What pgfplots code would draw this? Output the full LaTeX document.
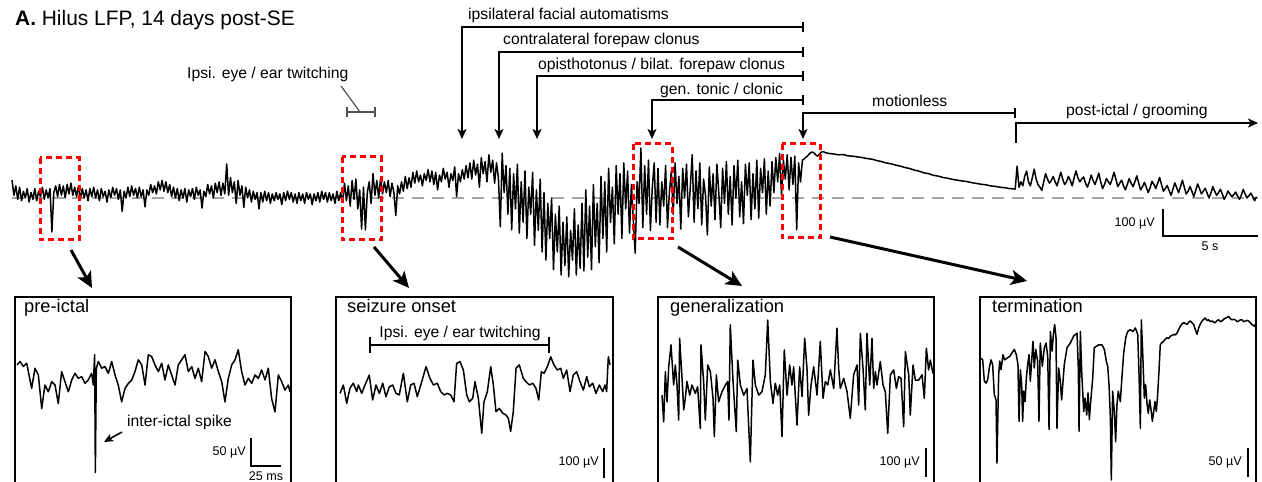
\documentclass[border=0pt]{standalone}
\usepackage{fontspec}
\setmainfont{Liberation Sans}
\usepackage{pgfplots}
\pgfplotsset{compat=1.18}
\usetikzlibrary{arrows.meta}
\newcommand{\fs}[1]{\fontsize{#1}{#1}\selectfont}
\definecolor{basegray}{RGB}{165,165,165}
\definecolor{bargray}{RGB}{80,80,80}

\begin{document}
\begin{tikzpicture}[x=1pt,y=1pt]
\useasboundingbox (0,0) rectangle (1262,482);

% ---------------- full recording: hilus LFP (time in s, voltage in uV) ----------------
\begin{axis}[at={(12pt,284pt)}, anchor=origin, x=19pt, y=0.27pt,
  xmin=0, xmax=65.6, ymin=-300, ymax=200, hide axis, clip=false]
\addplot[basegray, line width=2pt, dash pattern=on 12pt off 8pt] coordinates {(0,0) (65.6,0)};
\addplot[black, line width=1.5pt, line join=round] coordinates {
(0,66)(0.1,10)(0.2,45)(0.3,-5)(0.4,40)(0.5,-10)(0.6,25)(0.7,0)(0.8,35)(0.9,-15)(1,20)(1.1,-5)(1.2,35)(1.3,-10)(1.4,25)(1.5,5)(1.6,40)(1.7,-5)(1.8,30)(1.9,0)(2,35)(2.1,-126)(2.2,20)(2.3,45)(2.4,5)(2.5,50)(2.6,10)(2.7,45)(2.8,0)(2.9,50)(3,15)(3.1,55)(3.2,10)(3.3,40)(3.4,5)(3.5,45)(3.6,-5)(3.7,35)(3.8,0)(3.9,30)(4,-10)(4.1,35)(4.2,5)(4.3,40)(4.4,0)(4.5,30)(4.6,-10)(4.7,35)(4.8,5)(4.9,25)(5,-15)(5.1,30)(5.2,0)(5.3,40)(5.4,10)(5.5,35)(5.6,-5)(5.7,30)(5.8,-50)(5.9,25)(6,0)(6.1,40)(6.2,5)(6.3,45)(6.4,10)(6.5,35)(6.6,0)(6.7,40)(6.8,5)(6.9,30)(7,-33)(7.1,30)(7.2,10)(7.3,50)(7.4,20)(7.5,45)(7.6,15)(7.7,60)(7.8,30)(7.9,65)(8,25)(8.1,60)(8.2,20)(8.3,50)(8.4,5)(8.5,40)(8.6,0)(8.7,35)(8.8,-10)(8.9,30)(9,0)(9.1,35)(9.2,-15)(9.3,30)(9.4,5)(9.5,35)(9.6,-5)(9.7,40)(9.8,10)(9.9,30)(10,-37)(10.1,25)(10.2,5)(10.3,50)(10.4,15)(10.5,45)(10.6,0)(10.7,55)(10.8,20)(10.9,60)(11,10)(11.1,55)(11.2,15)(11.3,126)(11.4,10)(11.5,75)(11.6,20)(11.7,60)(11.8,-20)(11.9,65)(12,10)(12.1,45)(12.2,-35)(12.3,40)(12.4,0)(12.5,30)(12.6,-15)(12.7,25)(12.8,-5)(12.9,20)(13,-40)(13.1,20)(13.2,-15)(13.3,25)(13.4,-10)(13.5,20)(13.6,-20)(13.7,15)(13.8,-10)(13.9,20)(14,-5)(14.1,15)(14.2,-25)(14.3,20)(14.4,-10)(14.5,25)(14.6,-5)(14.7,20)(14.8,-15)(14.9,15)(15,-20)(15.1,20)(15.2,-10)(15.3,15)(15.4,-20)(15.5,20)(15.6,-5)(15.7,15)(15.8,-25)(15.9,15)(16,-10)(16.1,20)(16.2,-15)(16.3,25)(16.4,-5)(16.5,20)(16.6,-15)(16.7,20)(16.8,-10)(16.9,15)(17,-20)(17.1,25)(17.2,-10)(17.3,20)(17.4,-15)(17.5,55)(17.6,-10)(17.7,45)(17.8,-30)(17.9,65)(18,-5)(18.1,70)(18.2,-40)(18.3,30)(18.4,-115)(18.5,40)(18.6,-118)(18.7,20)(18.8,60)(18.9,-20)(19,90)(19.1,10)(19.2,65)(19.3,0)(19.4,75)(19.5,15)(19.6,60)(19.7,20)(19.8,65)(19.9,5)(20,55)(20.1,20)(20.2,-65)(20.3,45)(20.4,15)(20.5,60)(20.6,25)(20.7,80)(20.8,35)(20.9,75)(21,40)
(21.1,95)(21.2,55)(21.3,100)(21.4,60)(21.5,85)(21.6,45)(21.7,90)(21.8,65)(21.9,105)(22,60)
(22.1,100)(22.2,50)(22.3,95)(22.4,30)(22.5,85)(22.6,60)(22.7,110)(22.8,70)(22.9,95)(23,40)(23.1,90)(23.2,65)(23.3,115)(23.4,5)(23.5,90)(23.6,60)(23.7,105)(23.8,70)(23.9,120)(24,75)
(24.1,130)(24.2,70)(24.3,140)(24.4,85)(24.5,125)(24.6,40)(24.7,150)(24.8,90)(24.9,135)(25,60)(25.1,160)(25.2,95)(25.3,140)(25.4,55)(25.5,130)(25.6,75)(25.7,-107)(25.8,166)(25.9,20)
(26,120)(26.1,-60)(26.2,110)(26.3,-118)(26.4,90)(26.5,-40)(26.6,125)(26.7,-130)(26.8,60)(26.9,-90)(27,100)(27.1,-150)(27.2,40)(27.3,-60)(27.4,95)(27.5,-175)(27.6,30)(27.7,-120)(27.8,70)(27.9,-200)(28,20)
(28.1,-230)(28.2,-20)(28.3,-150)(28.4,0)(28.5,-265)(28.6,-60)(28.7,-200)(28.8,-30)(28.9,-285)(29,-90)
(29.1,-250)(29.2,-70)(29.3,-292)(29.4,-120)(29.5,-230)(29.6,-40)(29.7,-285)(29.8,-100)(29.9,-260)(30,-20)
(30.1,-270)(30.2,30)(30.3,-220)(30.4,-30)(30.5,-265)(30.6,50)(30.7,-180)(30.8,-20)(30.9,-240)(31,80)
(31.1,-150)(31.2,60)(31.3,-200)(31.4,110)(31.5,-90)(31.6,40)(31.7,-170)(31.8,120)(31.9,-60)(32,90)
(32.1,-150)(32.2,130)(32.3,-40)(32.4,100)(32.5,-130)(32.6,50)(32.7,-80)(32.8,-204)(32.9,60)(33,-20)(33.1,185)(33.2,-110)(33.3,120)(33.4,-60)(33.5,140)(33.6,-120)(33.7,40)(33.8,130)(33.9,-90)(34,110)
(34.1,-100)(34.2,60)(34.3,-30)(34.4,120)(34.5,-110)(34.6,20)(34.7,100)(34.8,-60)(34.9,130)(35,-20)(35.1,80)(35.2,-115)(35.3,110)(35.4,0)(35.5,125)(35.6,-70)(35.7,40)(35.8,160)(35.9,-90)(36,100)(36.1,-40)(36.2,130)(36.3,-100)(36.4,70)(36.5,10)(36.6,-137)(36.7,115)(36.8,-30)(36.9,90)(37,-80)(37.1,125)(37.2,20)(37.3,-110)(37.4,110)(37.5,-20)(37.6,135)(37.7,-60)(37.8,80)(37.9,-100)(38,120)(38.1,0)(38.2,140)(38.3,-70)(38.4,60)(38.5,-95)(38.6,125)(38.7,10)(38.8,130)(38.9,-80)(39,90)(39.1,-40)(39.2,140)(39.3,-75)(39.4,110)(39.5,20)(39.6,145)(39.7,-60)(39.8,100)(39.9,-30)(40,135)
(40.1,20)(40.2,150)(40.3,60)(40.4,165)(40.5,10)(40.6,140)(40.7,70)(40.8,160)(40.9,30)(41,150)(41.1,50)(41.2,155)(41.3,-118)(41.4,130)(41.5,60)(41.6,140)
(41.7,145)(41.8,152)(41.9,158)(42,166)(42.1,170)(42.2,168)(42.3,160)(42.4,155)(42.5,163)(42.6,170)(42.7,172)(42.8,168)(43,165)(43.25,163)(43.5,160)(43.75,161)(44,156)(44.25,155)(44.5,152)(44.75,150)(45,146)(45.25,144)(45.5,139)(45.75,135)(46,130)(46.25,127)(46.5,122)(46.75,118)(47,113)(47.25,109)(47.5,103)(47.75,99)(48,93)(48.25,90)(48.5,84)(48.75,81)(49,76)(49.25,73)(49.5,69)(49.75,66)(50,63)(50.25,61)(50.5,57)(50.75,54)(51,51)(51.25,49)(51.5,45)(51.75,43)(52,40)(52.25,38)(52.5,35)(52.8,33)
(52.9,118)(53,40)(53.1,60)(53.2,45)(53.3,80)(53.4,100)(53.5,60)(53.6,45)(53.7,75)(53.8,107)(53.9,70)(54,50)(54.1,40)(54.2,28)(54.3,60)(54.4,90)(54.5,70)(54.6,55)(54.7,65)(54.8,80)(54.9,60)(55,45)(55.1,70)(55.2,95)(55.3,70)(55.4,50)(55.5,60)(55.6,80)(55.7,65)(55.8,45)(55.9,75)(56,100)(56.1,75)(56.2,60)(56.3,70)(56.4,78)(56.5,55)(56.6,40)(56.7,60)(56.8,85)(56.9,65)(57,50)(57.1,70)(57.2,92)(57.3,60)(57.4,35)(57.5,50)(57.6,72)(57.7,60)(57.8,50)(57.9,70)(58,95)(58.1,70)(58.2,42)(58.3,55)(58.4,66)(58.5,45)(58.6,30)(58.7,50)(58.8,72)(58.9,55)(59,42)(59.1,60)(59.2,82)(59.3,55)(59.4,30)(59.5,42)(59.6,58)(59.7,40)(59.8,20)(59.9,38)(60,62)(60.1,50)(60.2,35)(60.3,55)(60.4,76)(60.5,50)(60.6,25)(60.7,35)(60.8,46)(60.9,28)(61,10)(61.1,32)(61.2,56)(61.3,38)(61.4,20)(61.5,42)(61.6,66)(61.7,40)(61.8,15)(61.9,25)(62,42)(62.1,25)(62.2,5)(62.3,28)(62.4,52)(62.5,35)(62.6,15)(62.7,25)(62.8,36)(62.9,18)(63,0)(63.1,18)(63.2,42)(63.3,25)(63.4,10)(63.5,20)(63.6,32)(63.7,15)(63.8,-5)(63.9,8)(64,26)(64.1,15)(64.2,5)(64.3,12)(64.4,22)(64.5,8)(64.6,-5)(64.7,10)(64.8,32)(64.9,15)(65,0)(65.1,8)(65.2,18)(65.3,5)(65.4,-10)(65.5,5)
};
\end{axis}

% ---------------- inset: pre-ictal (time in ms, voltage in uV) ----------------
\begin{axis}[at={(17pt,102pt)}, anchor=origin, x=1.2pt, y=0.56pt,
  xmin=0, xmax=228, ymin=-170, ymax=60, hide axis, clip=false]
\addplot[black, line width=1.5pt, line join=round] coordinates {
(0,27)(2.5,33)(5.3,24)(8.1,30)(12.2,-15)(15,21)(17.8,9)(20.6,-51)(23.3,-9)(26.1,-21)(28.9,-3)(31.7,-9)(34.4,-42)(37.2,15)(40,-3)(42.8,-21)(45.6,0)(48.3,12)(51.1,3)(53.9,6)(56.7,-6)(59.4,0)(62.2,12)(63.6,-9)(64.7,45)(65.3,-165)(66.1,21)(67.8,33)(70.6,21)(73.3,24)(76.1,12)(78.9,33)(81.7,9)(84.4,-9)(87.2,-39)(90,-15)(92.8,-6)(95.6,0)(98.3,15)(101.1,36)(103.9,27)(106.7,-9)(109.4,45)(112.2,42)(115,27)(117.8,15)(120.6,30)(123.3,0)(126.1,27)(128.9,9)(131.7,-9)(134.4,27)(137.2,36)(140,45)(142.8,15)(145.6,24)(148.3,3)(151.1,21)(153.9,-3)(156.7,51)(159.4,42)(162.2,21)(165,36)(167.8,15)(170.6,-3)(173.3,-39)(176.1,3)(178.9,27)(181.7,36)(184.4,54)(187.2,15)(190,-9)(192.8,3)(195.6,-6)(198.3,9)(201.1,3)(203.9,18)(206.7,0)(209.4,21)(212.2,-33)(215,-57)(217.8,9)(220.6,-3)(223.3,-18)(226.1,-9)(227.5,-21)
};
\end{axis}

% ---------------- inset: seizure onset ----------------
\begin{axis}[at={(340pt,97pt)}, anchor=origin, x=1.2pt, y=0.3pt,
  xmin=0, xmax=226, ymin=-170, ymax=100, hide axis, clip=false]
\addplot[black, line width=1.5pt, line join=round] coordinates {
(0,-28)(2.8,0)(5.6,-61)(8.3,-11)(11.1,6)(13.9,-22)(15.3,0)(18.1,-28)(20.8,0)(24.4,33)(27.2,-50)(30,0)(32.8,-28)(35.6,6)(38.3,-39)(41.1,-6)(43.9,0)(46.7,-28)(49.4,-33)(52.8,39)(56.1,-56)(58.9,0)(61.7,6)(64.4,-39)(68.1,11)(71.7,61)(75,22)(77.8,0)(81.1,6)(83.9,-22)(86.7,-33)(89.4,-28)(92.2,-33)(95,-56)(97.2,72)(100,78)(102.8,50)(105.6,-33)(107.8,-56)(110.6,-44)(112.5,11)(115.3,-44)(118.1,-161)(120,-56)(122.8,-22)(125.6,61)(127.8,0)(130,-89)(132.8,-78)(135.6,-94)(138.3,-100)(140.3,-111)(142.2,-155)(144.4,-89)(146.7,56)(149.4,67)(152.8,22)(155,11)(157.8,0)(160.6,6)(163.3,-11)(165.6,-50)(167.8,44)(170,39)(172.8,61)(175.6,94)(178.3,67)(181.1,50)(183.9,56)(186.1,22)(188.9,50)(191.7,-22)(194.4,33)(197.2,44)(200,11)(202.8,-17)(205.6,28)(207.8,-6)(210.6,6)(213.3,-28)(216.1,0)(218.9,-22)(220.8,0)(222.2,-22)(223.6,94)(225,67)
};
\end{axis}

% ---------------- inset: generalization ----------------
\begin{axis}[at={(662pt,97pt)}, anchor=origin, x=1.2pt, y=0.29pt,
  xmin=0, xmax=226, ymin=-270, ymax=230, hide axis, clip=false]
\addplot[black, line width=1.5pt, line join=round] coordinates {
(0,-35)(1.4,-127)(2.8,46)(4.2,-58)(5.6,63)(7.5,138)(9.7,0)(11.1,69)(12.5,0)(13.9,-121)(14.7,161)(16.7,23)(18.1,-86)(19.4,-46)(20.8,12)(23.1,-35)(25,0)(27.8,-29)(29.7,-6)(31.9,-150)(32.5,138)(34.7,12)(36.1,-121)(38.1,69)(40.3,46)(42.5,-46)(43.6,-178)(45.3,35)(47.2,-58)(50,-23)(52.8,0)(54.7,12)(55.8,-121)(56.9,207)(59.2,12)(61.9,-161)(63.1,86)(65.3,0)(68.1,-35)(70.8,-12)(73.6,-265)(75.8,86)(77.8,0)(80.6,-35)(83.3,-23)(86.1,35)(88.1,224)(90.3,12)(92.5,-63)(94.4,6)(96.4,-35)(98.1,0)(100,-178)(101.9,121)(104.2,-35)(106.4,69)(108.3,0)(109.7,63)(112.5,-138)(114.7,63)(116.7,-40)(118.9,161)(120.8,58)(122.2,-104)(124.2,0)(126.4,63)(129.2,-35)(131.9,150)(134.2,-46)(136.1,12)(138.1,0)(140.3,52)(143.1,-12)(145.8,196)(147.2,58)(148.6,-12)(151.4,23)(154.2,-23)(156.9,-115)(159.7,35)(162.5,69)(163.9,-69)(165.3,178)(167.5,58)(169.4,-86)(170.8,178)(173.1,0)(175,161)(176.4,-12)(177.8,46)(179.2,0)(181.9,81)(184.2,0)(186.1,-23)(188.1,-167)(190.3,35)(193.1,52)(195.3,-12)(197.2,29)(199.2,23)(201.4,-144)(202.8,115)(205.6,35)(206.9,-104)(209.2,69)(211.1,17)(213.9,17)(216.7,35)(218.6,-46)(220.3,127)(222.2,52)(223.6,86)(225.8,40)
};
\end{axis}

% ---------------- inset: termination ----------------
\begin{axis}[at={(981pt,114pt)}, anchor=origin, x=1.2pt, y=0.58pt,
  xmin=0, xmax=229, ymin=-200, ymax=95, hide axis, clip=false]
\addplot[black, line width=1.5pt, line join=round] coordinates {
(0,17)(1.4,14)(2.8,-23)(4.2,-26)(5.6,-20)(6.9,0)(8.3,14)(9.7,6)(11.1,-46)(12.5,-55)(13.3,-164)(14.7,-12)(15.6,12)(16.7,-3)(18.3,23)(19.7,14)(21.7,17)(23.9,20)(25.8,26)(27.8,32)(29.4,23)(30.8,6)(31.7,-92)(32.8,-3)(33.9,-29)(34.7,-92)(35.6,-40)(36.7,-58)(37.8,-17)(38.9,6)(40,23)(41.1,-23)(42.2,12)(43.3,46)(44.4,0)(45.6,32)(47.2,12)(48.3,-92)(49.4,43)(51.1,3)(52.8,35)(54.2,43)(55.6,20)(56.7,-106)(57.8,63)(59.2,29)(60.3,58)(61.4,75)(62.5,52)(63.3,-104)(64.7,0)(66.1,-23)(67.2,-55)(69.4,6)(71.7,35)(74.4,43)(77.2,55)(80,60)(81.1,0)(81.7,-109)(82.8,63)(83.9,-6)(85.6,-75)(86.7,-52)(88.1,-81)(89.2,-43)(90.3,-89)(91.4,-58)(93.1,-17)(94.4,35)(95.8,37)(98.1,40)(100.8,40)(102.8,32)(104.4,12)(105.6,3)(106.7,-29)(107.8,-86)(108.6,-193)(109.7,-40)(111.1,-75)(112.2,-127)(113.3,-63)(114.4,-40)(116.1,-58)(117.5,-14)(118.9,26)(120.6,52)(122.2,63)(124.4,66)(126.7,63)(128.6,69)(130.6,58)(131.7,-12)(132.8,-104)(133.6,83)(134.7,29)(136.1,-52)(137.2,-29)(138.3,-60)(139.4,-78)(140.6,-55)(141.7,-72)(142.8,-92)(143.9,-75)(145,-58)(146.1,-75)(147.2,-46)(148.3,-6)(149.4,40)(150.8,44)(152.2,46)(153.6,50)(155,52)(156.4,51)(157.8,55)(159.2,56)(160.6,58)(162,57)(163.3,60)(164.7,66)(166.1,72)(167.5,76)(168.9,78)(170.3,77)(171.7,75)(173.1,79)(174.4,81)(175.8,78)(177.2,75)(178.6,66)(180,58)(181.4,69)(182.8,76)(184.2,81)(185.6,84)(186.9,86)(188.3,82)(189.7,83)(191.1,80)(192.5,81)(193.9,79)(195.3,78)(196.7,82)(198.1,83)(199.4,80)(200.8,81)(202.2,84)(203.6,86)(205,87)(206.4,89)(207.8,85)(209.2,83)(210.6,84)(211.9,83)(213.3,80)(214.7,81)(216.1,83)(217.5,83)(218.9,80)(220.3,81)(221.7,82)(223.1,81)(224.4,78)(225.8,75)(227.2,73)(227.8,72)(228.6,75)
};
\end{axis}

% ---------------- annotations, in picture units with y measured downward ----------------
\begin{scope}[shift={(0,482)}, yscale=-1]
  % title
  \node[anchor=base west, inner sep=0] at (15,26) {\fs{20.9}\textbf{A.} Hilus LFP, 14 days post-SE};

  % behaviour bars above the recording
  \tikzset{beh/.style={line width=1.6pt, -{Stealth[length=10pt,width=9pt,inset=2.5pt]}}}
  \draw[beh] (803,27) -- (462,27) -- (462,139);
  \draw[beh] (803,52) -- (499,52) -- (499,139);
  \draw[beh] (803,76) -- (537,76) -- (537,139);
  \draw[beh] (803,100) -- (652,100) -- (652,139);
  \draw[beh] (1015,113) -- (803,113) -- (803,139);
  \draw[beh] (1016,143) -- (1016,123) -- (1258,123);
  \foreach \yy in {27,52,76,100} \draw[line width=1.6pt] (803,\yy-5) -- (803,\yy+5);
  \draw[line width=1.6pt] (1015,108) -- (1015,118);

  \node[anchor=base west, inner sep=0] at (468,20) {\fs{15.7}ipsilateral facial automatisms};
  \node[anchor=base west, inner sep=0] at (503,45) {\fs{15.7}contralateral forepaw clonus};
  \node[anchor=base west, inner sep=0] at (538,70) {\fs{15.7}opisthotonus / bilat. forepaw clonus};
  \node[anchor=base west, inner sep=0] at (660,95) {\fs{15.7}gen. tonic / clonic};
  \node[anchor=base west, inner sep=0] at (872,107) {\fs{15.7}motionless};
  \node[anchor=base west, inner sep=0] at (1066,116) {\fs{15.7}post-ictal / grooming};

  % early twitching marker
  \node[anchor=base west, inner sep=0] at (187,79) {\fs{15.7}Ipsi. eye / ear twitching};
  \draw[bargray, line width=1.2pt] (341,86) -- (360,112);
  \draw[bargray, line width=1.8pt] (347,112) -- (375,112);
  \draw[bargray, line width=1.8pt] (347,107) -- (347,117) (375,107) -- (375,117);

  % windows shown enlarged below
  \tikzset{win/.style={red, line width=3pt, dash pattern=on 6pt off 4pt}}
  \draw[win] (40,158) rectangle (79,240);
  \draw[win] (342,157) rectangle (381,240);
  \draw[win] (633,144) rectangle (672,239);
  \draw[win] (782,144) rectangle (820,238);

  % pointers to the enlarged windows
  \tikzset{ptr/.style={line width=3pt, -{Stealth[length=16pt,width=15pt,inset=4pt]}}}
  \draw[ptr] (71,250) -- (92,288);
  \draw[ptr] (374,247) -- (409,288);
  \draw[ptr] (678,247) -- (742,286);
  \draw[ptr] (830,237) -- (1027,281);

  % scale bar of the full recording
  \draw[line width=1.6pt] (1163,209) -- (1163,236) -- (1258,236);
  \node[anchor=east, inner sep=0] at (1155,223) {\fs{12.6}100 µV};
  \node[inner sep=0] at (1210,246) {\fs{12.6}5 s};

  % inset frames
  \tikzset{frm/.style={line width=1.8pt}}
  \draw[frm] (15,482) -- (15,297) -- (291,297) -- (291,482);
  \draw[frm] (336,482) -- (336,297) -- (613,297) -- (613,482);
  \draw[frm] (658,482) -- (658,297) -- (934,297) -- (934,482);
  \draw[frm] (980,482) -- (980,297) -- (1256,297) -- (1256,482);

  \node[anchor=base west, inner sep=0] at (24,313) {\fs{18.3}pre-ictal};
  \node[anchor=base west, inner sep=0] at (347,313) {\fs{18.3}seizure onset};
  \node[anchor=base west, inner sep=0] at (670,313) {\fs{18.3}generalization};
  \node[anchor=base west, inner sep=0] at (992,313) {\fs{18.3}termination};

  % pre-ictal details
  \node[anchor=base west, inner sep=0] at (127,427) {\fs{15.7}inter-ictal spike};
  \draw[line width=1.6pt, -{Stealth[length=9pt,width=8pt,inset=2pt]}] (122,432) -- (104,442);
  \draw[line width=1.4pt] (251,438) -- (251,466) -- (281,466);
  \node[anchor=east, inner sep=0] at (246,452) {\fs{12.6}50 µV};
  \node[inner sep=0] at (266,476) {\fs{12.6}25 ms};

  % seizure onset details
  \node[anchor=base, inner sep=0] at (460,338) {\fs{15.7}Ipsi. eye / ear twitching};
  \draw[line width=1.8pt] (370,345) -- (549,345) (370,337) -- (370,353) (549,337) -- (549,353);
  \draw[line width=1.4pt] (604,448) -- (604,478);
  \node[anchor=east, inner sep=0] at (599,462) {\fs{12.6}100 µV};

  % generalization and termination scale bars
  \draw[line width=1.4pt] (926,448) -- (926,477);
  \node[anchor=east, inner sep=0] at (920,462) {\fs{12.6}100 µV};
  \draw[line width=1.4pt] (1248,448) -- (1248,477);
  \node[anchor=east, inner sep=0] at (1242,462) {\fs{12.6}50 µV};
\end{scope}
\end{tikzpicture}
\end{document}
